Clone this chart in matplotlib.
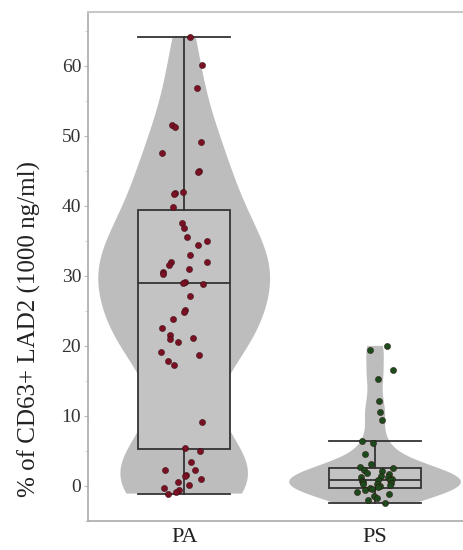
import matplotlib.pyplot as plt
import numpy as np

# group labels
groups = ["PA", "PS"]

# % of CD63+ LAD2 cells
pa_values = [64.2, 60.1, 56.8, 51.5, 51.3, 49.2, 47.6, 45.0, 44.8, 42.0,
             41.8, 41.7, 39.9, 37.6, 36.8, 35.6, 35.0, 34.4, 33.0, 32.0,
             32.0, 31.5, 31.0, 30.5, 30.3, 29.2, 29.0, 28.8, 27.2, 25.1,
             24.9, 23.8, 22.6, 21.5, 21.2, 21.0, 20.6, 19.1, 18.7, 17.8,
             17.3, 9.1, 5.4, 5.0, 3.4, 2.3, 2.2, 1.6, 1.4, 1.0,
             0.6, 0.1, -0.3, -0.6, -0.9, -1.1]
ps_values = [20.0, 19.4, 16.5, 15.2, 12.1, 10.5, 9.4, 6.4, 6.1, 4.5,
             3.1, 2.7, 2.6, 2.2, 2.1, 1.8, 1.7, 1.4, 1.3, 1.2,
             1.0, 0.9, 0.9, 0.7, 0.6, 0.4, 0.3, 0.3, 0.1, 0.0,
             -0.2, -0.3, -0.5, -0.6, -0.9, -1.1, -1.4, -1.7, -2.0, -2.4]

# box statistics as drawn in the reference (q1, median, q3, whiskers)
pa_box = [5.3, 29.0, 39.4, -1.1, 64.2]
ps_box = [-0.3, 0.9, 2.6, -2.4, 6.4]

y_ticks = [0, 10, 20, 30, 40, 50, 60]


def main():
    plt.rcParams["font.family"] = ["Liberation Serif", "DejaVu Serif"]
    fig = plt.figure(figsize=(4.64, 5.5), dpi=100)
    ax = fig.add_axes([0.19, 0.053, 0.81, 0.925])

    data = [np.array(pa_values), np.array(ps_values)]
    pos = np.arange(len(groups))

    vp = ax.violinplot(data, positions=pos, widths=0.9, showextrema=False,
                       bw_method=0.33)
    for body in vp["bodies"]:
        body.set_facecolor("#bdbdbd")
        body.set_edgecolor("none")
        body.set_alpha(1)

    stats = []
    for b, name in zip([pa_box, ps_box], groups):
        stats.append(dict(q1=b[0], med=b[1], q3=b[2], whislo=b[3],
                          whishi=b[4], fliers=[], label=name))
    line = dict(color="#333333", linewidth=1.3)
    ax.bxp(stats, positions=pos, widths=0.48, capwidths=0.48,
           patch_artist=True, showfliers=False,
           boxprops=dict(facecolor="#c3c3c3", edgecolor="#333333",
                         linewidth=1.3),
           medianprops=line, whiskerprops=line, capprops=line, zorder=2)

    rng = np.random.default_rng(7)
    colors = ["#7a1024", "#1d4a1d"]
    spread = [0.12, 0.1]
    for i, vals in enumerate(data):
        jit = rng.uniform(-spread[i], spread[i], len(vals))
        ax.scatter(pos[i] + jit, vals, s=20, color=colors[i],
                   edgecolors="#2a0a0a", linewidths=0.3, zorder=3)

    ax.set_xlim(-0.503, 1.466)
    ax.set_ylim(-4.7, 67.7)
    ax.set_yticks(y_ticks)
    ax.set_yticks(np.arange(-5, 70, 5), minor=True)
    ax.set_xticks(pos)
    ax.set_xticklabels(groups, fontsize=16, color="#222222")
    ax.tick_params(axis="x", length=0, pad=5)
    ax.tick_params(axis="y", labelsize=14, colors="#bbbbbb",
                   labelcolor="#333333", length=3, pad=2)
    ax.tick_params(axis="y", which="minor", length=2, colors="#cccccc")
    ax.set_ylabel("% of CD63+ LAD2 (1000 ng/ml)", fontsize=18,
                  color="#222222")
    ax.yaxis.set_label_coords(-0.125, 0.377)

    for side in ["left", "bottom"]:
        ax.spines[side].set_color("#aaaaaa")
        ax.spines[side].set_linewidth(1.2)
    ax.spines["top"].set_color("#c8c8c8")
    ax.spines["top"].set_linewidth(1.5)
    ax.spines["right"].set_visible(False)

    plt.savefig("out.png", dpi=100)


if __name__ == "__main__":
    main()
